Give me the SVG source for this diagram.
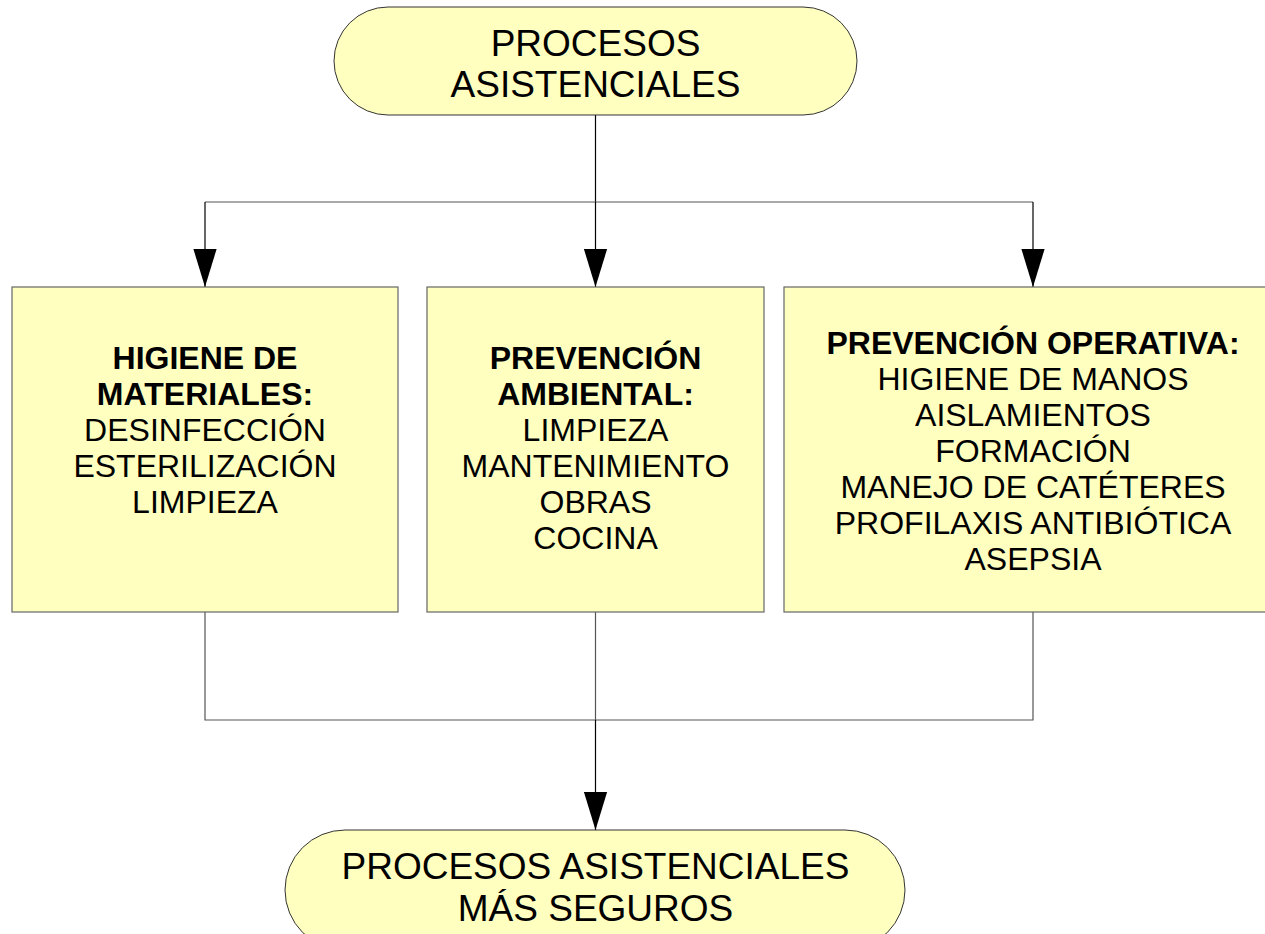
<svg xmlns="http://www.w3.org/2000/svg" width="1265" height="934" viewBox="0 0 1265 934">
<style>
.bg{fill:#ffffff}
.term{fill:#ffffc0;stroke:#333333;stroke-width:1}
.box{fill:#ffffc0;stroke:#666666;stroke-width:1.2}
.ln{fill:none;stroke:#555555;stroke-width:1.2}
.lnk{fill:none;stroke:#000000;stroke-width:1.2}
text{font-family:"Liberation Sans",Arial,sans-serif;fill:#000;text-anchor:middle}
.big{font-size:37px}
.t{font-size:32px}
.b{font-weight:bold}
</style>
<defs>
<marker id="arr" markerUnits="userSpaceOnUse" markerWidth="24" markerHeight="38" refX="11" refY="36" orient="0" viewBox="0 0 22 36">
<path d="M0,0 L22,0 L11,36 Z" fill="#000"/>
</marker>
</defs>
<rect class="bg" x="0" y="0" width="1265" height="934"/>
<g id="connectors">
<path class="lnk" d="M595.5,115 V202"/>
<path class="ln" d="M205,202 H1033"/>
<path class="lnk" d="M205,202 V287" marker-end="url(#arr)"/>
<path class="lnk" d="M595.5,202 V287" marker-end="url(#arr)"/>
<path class="lnk" d="M1033,202 V287" marker-end="url(#arr)"/>
<path class="ln" d="M205,612 V720 H1033 V612"/>
<path class="ln" d="M595.5,612 V720"/>
<path class="lnk" d="M595.5,720 V830" marker-end="url(#arr)"/>
</g>
<g id="n-top">
<rect class="term" x="334" y="7" width="523" height="108" rx="54" ry="54"/>
<text class="big" x="595.5" y="56">PROCESOS</text>
<text class="big" x="595.5" y="97">ASISTENCIALES</text>
</g>
<g id="n-materiales">
<rect class="box" x="12" y="287" width="386" height="325"/>
<text class="t b" x="205" y="369">HIGIENE DE</text>
<text class="t b" x="205" y="405">MATERIALES:</text>
<text class="t" x="205" y="441">DESINFECCIÓN</text>
<text class="t" x="205" y="477">ESTERILIZACIÓN</text>
<text class="t" x="205" y="513">LIMPIEZA</text>
</g>
<g id="n-ambiental">
<rect class="box" x="427" y="287" width="337" height="325"/>
<text class="t b" x="595.5" y="369">PREVENCIÓN</text>
<text class="t b" x="595.5" y="405">AMBIENTAL:</text>
<text class="t" x="595.5" y="441">LIMPIEZA</text>
<text class="t" x="595.5" y="477">MANTENIMIENTO</text>
<text class="t" x="595.5" y="513">OBRAS</text>
<text class="t" x="595.5" y="549">COCINA</text>
</g>
<g id="n-operativa">
<rect class="box" x="784" y="287" width="498" height="325"/>
<text class="t b" x="1033" y="354">PREVENCIÓN OPERATIVA:</text>
<text class="t" x="1033" y="390">HIGIENE DE MANOS</text>
<text class="t" x="1033" y="426">AISLAMIENTOS</text>
<text class="t" x="1033" y="462">FORMACIÓN</text>
<text class="t" x="1033" y="498">MANEJO DE CATÉTERES</text>
<text class="t" x="1033" y="534">PROFILAXIS ANTIBIÓTICA</text>
<text class="t" x="1033" y="570">ASEPSIA</text>
</g>
<g id="n-bottom">
<rect class="term" x="285" y="830" width="620" height="120" rx="60" ry="60"/>
<text class="big" x="595.5" y="879">PROCESOS ASISTENCIALES</text>
<text class="big" x="595.5" y="921">MÁS SEGUROS</text>
</g>
</svg>
